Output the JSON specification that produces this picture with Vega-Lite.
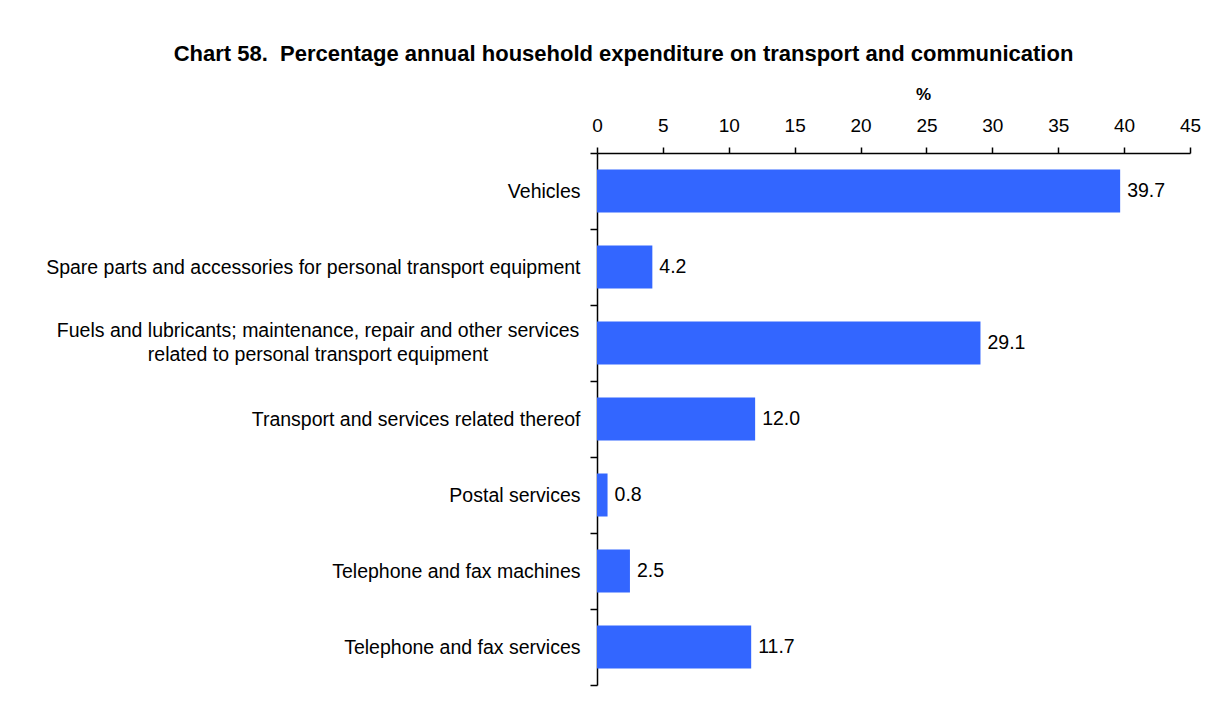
{
  "$schema": "https://vega.github.io/schema/vega-lite/v6.json",
  "autosize": {"type": "none"},
  "padding": {"left": 597, "top": 153, "right": 29, "bottom": 42},
  "width": 593,
  "height": 532,
  "background": "white",
  "title": {
    "text": "Chart 58.\u00a0\u00a0Percentage annual household expenditure on transport and communication",
    "font": "Liberation Sans",
    "fontSize": 22,
    "fontWeight": "bold",
    "color": "black",
    "anchor": "middle",
    "frame": "group",
    "dx": -270,
    "offset": 19
  },
  "config": {
    "view": {"stroke": null},
    "font": "Liberation Sans"
  },
  "data": {
    "values": [
      {"category": "Vehicles", "value": 39.7},
      {"category": "Spare parts and accessories for personal transport equipment", "value": 4.2},
      {"category": "Fuels and lubricants; maintenance, repair and other services|related to personal transport equipment", "value": 29.1},
      {"category": "Transport and services related thereof", "value": 12.0},
      {"category": "Postal services", "value": 0.8},
      {"category": "Telephone and fax machines", "value": 2.5},
      {"category": "Telephone and fax services", "value": 11.7}
    ]
  },
  "encoding": {
    "y": {
      "field": "category",
      "type": "nominal",
      "sort": null,
      "scale": {"paddingInner": 0, "paddingOuter": 0},
      "axis": {
        "title": null,
        "domainColor": "black",
        "domainWidth": 1.5,
        "tickColor": "black",
        "tickWidth": 1.5,
        "tickSize": 7,
        "tickBand": "extent",
        "labelFont": "Liberation Sans",
        "labelFontSize": 19.5,
        "labelColor": "black",
        "labelPadding": 10,
        "labelLimit": 700,
        "labelExpr": "indexof(datum.label, '|') >= 0 ? '' : datum.label"
      }
    },
    "x": {
      "field": "value",
      "type": "quantitative",
      "scale": {"domain": [0, 45], "nice": false},
      "axis": {
        "orient": "top",
        "values": [0, 5, 10, 15, 20, 25, 30, 35, 40, 45],
        "grid": false,
        "title": "%",
        "titleFont": "Liberation Sans",
        "titleFontSize": 17,
        "titleFontWeight": "bold",
        "titleColor": "black",
        "titleX": 326,
        "titleY": -59,
        "titleAlign": "center",
        "titleBaseline": "middle",
        "domainColor": "black",
        "domainWidth": 1.5,
        "tickColor": "black",
        "tickWidth": 1.5,
        "tickSize": 6,
        "labelFont": "Liberation Sans",
        "labelFontSize": 19,
        "labelColor": "black",
        "labelPadding": 12,
        "labelFlush": false
      }
    }
  },
  "layer": [
    {"mark": {"type": "bar", "color": "#3366FF", "size": 43}},
    {
      "mark": {"type": "text", "align": "left", "baseline": "middle", "dx": 7, "font": "Liberation Sans", "fontSize": 19.5, "color": "black"},
      "encoding": {"text": {"field": "value", "type": "quantitative", "format": ".1f"}}
    },
    {
      "transform": [{"filter": "indexof(datum.category, '|') >= 0"}],
      "mark": {"type": "text", "align": "center", "baseline": "middle", "lineBreak": "|", "lineHeight": 24, "dx": -279, "dy": -12, "font": "Liberation Sans", "fontSize": 19.5, "color": "black"},
      "encoding": {
        "x": {"datum": 0, "type": "quantitative"},
        "text": {"field": "category", "type": "nominal"}
      }
    }
  ]
}
